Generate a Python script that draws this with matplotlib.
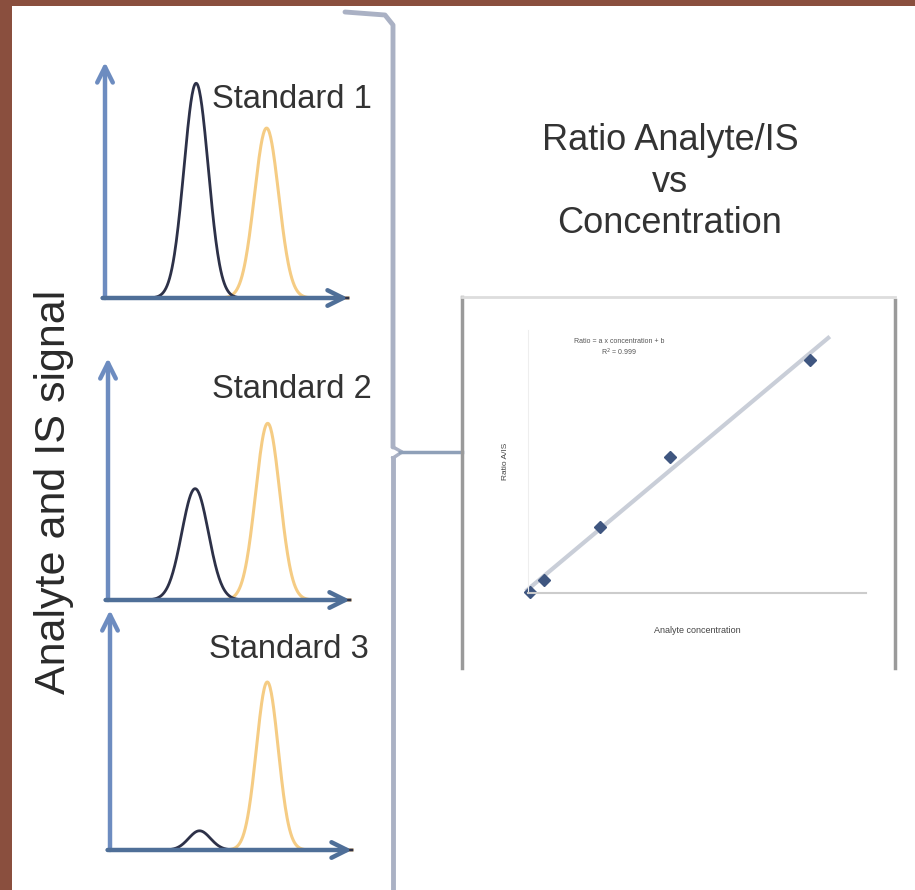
import numpy as np
import matplotlib
matplotlib.use("Agg")
import matplotlib.pyplot as plt

plt.rcParams['font.family'] = ['Liberation Sans', 'DejaVu Sans']

# chromatogram peaks per standard: retention time, height (fraction of axis), width
standards = ["Standard 1", "Standard 2", "Standard 3"]
analyte_rt = [3.75, 3.6, 3.7]
analyte_height = [0.91, 0.46, 0.08]
analyte_width = [0.5, 0.55, 0.45]
is_rt = [6.65, 6.6, 6.5]
is_height = [0.72, 0.73, 0.70]
is_width = [0.5, 0.5, 0.45]

# calibration curve
conc = [0, 1, 5, 10, 20]
ratio = [0.01, 0.11, 0.57, 1.17, 2.0]

W, H = 915, 890
fig = plt.figure(figsize=(W / 100, H / 100), dpi=100)
fig.patch.set_facecolor("#8a4f3e")

base = fig.add_axes([0, 0, 1, 1])
base.set_xlim(0, W)
base.set_ylim(H, 0)
base.axis("off")
base.add_patch(plt.Rectangle((12, 6), W, H, facecolor="white", edgecolor="none"))


def fax(x0, y0, x1, y1):
    # pixel box (top-left origin) -> figure axes
    return fig.add_axes([x0 / W, 1 - y1 / H, (x1 - x0) / W, (y1 - y0) / H])


# panel boxes: left, top(arrow tip), right(arrow tip), baseline
boxes = [(105, 62, 348, 298), (108, 358, 350, 600), (110, 610, 352, 850)]
labels_xy = [(212, 100), (212, 389), (209, 649)]
t = np.linspace(0, 10, 400)

for i, (x0, y0, x1, y1) in enumerate(boxes):
    ax = fax(x0, y0, x1, y1)
    ax.set_xlim(0, 10)
    ax.set_ylim(0, 1)
    ax.axis("off")
    ax.patch.set_alpha(0)
    an = analyte_height[i] * np.exp(-0.5 * ((t - analyte_rt[i]) / analyte_width[i]) ** 2)
    iss = is_height[i] * np.exp(-0.5 * ((t - is_rt[i]) / is_width[i]) ** 2)
    ax.plot(t, iss, color="#f5cc84", lw=2.2, clip_on=False)
    ax.plot(t, an, color="#2d3148", lw=2.0, clip_on=False)
    arrow = dict(arrowstyle="->", color="#6d8cc0", lw=3.2, mutation_scale=28,
                 shrinkA=0, shrinkB=0)
    ax.annotate("", xy=(0, 1), xytext=(0, 0), xycoords="axes fraction", arrowprops=arrow)
    arrow2 = dict(arrow, color="#4f6f98")
    ax.annotate("", xy=(1, 0), xytext=(-0.01, 0), xycoords="axes fraction", arrowprops=arrow2)
    base.text(labels_xy[i][0], labels_xy[i][1], standards[i], fontsize=23.5,
              color="#333333", va="center", ha="left")

base.text(54, 492, "Analyte and IS signal", rotation=90, fontsize=31,
          color="#2a2a2a", va="center", ha="center")

# brace
bc = "#aab1c4"
base.plot([345, 385, 393, 393], [12, 15, 25, 447], color=bc, lw=3.5, solid_capstyle="round")
base.plot([393, 393], [458, 890], color=bc, lw=3.5)
base.plot([393, 402, 393], [447, 452, 458], color=bc, lw=2.5)
base.plot([400, 462], [452, 452], color="#8fa0b8", lw=2.5)

base.text(670, 182, "Ratio Analyte/IS\nvs\nConcentration", fontsize=26,
          color="#333333", ha="center", va="center", linespacing=1.25)

# calibration frame
base.plot([462, 462], [297, 668], color="#9a9a9a", lw=2.5)
base.plot([895, 895], [300, 668], color="#9a9a9a", lw=2.5)
base.plot([462, 895], [297, 297], color="#dddddd", lw=2)

cal = fax(528, 330, 866, 593)
cal.set_xlim(-0.15, 24)
cal.set_ylim(0, 2.26)
cal.set_xticks([])
cal.set_yticks([])
for s in ["top", "right"]:
    cal.spines[s].set_visible(False)
cal.spines["left"].set_color("#eeeeee")
cal.spines["bottom"].set_color("#cccccc")
cal.spines["bottom"].set_linewidth(1.5)
a, b = np.polyfit(conc, ratio, 1)
xf = np.array([-0.2, 21.3])
cal.plot(xf, a * xf + b, color="#c9ced8", lw=3, clip_on=False)
cal.plot(conc, ratio, "D", color="#3f5680", ms=6, clip_on=False)
cal.text(0.27, 0.97, "Ratio = a x concentration + b\nR$^2$ = 0.999", transform=cal.transAxes,
         fontsize=5, color="#555555", ha="center", va="top")
cal.set_ylabel("Ratio A/IS", fontsize=6, color="#444444", labelpad=14)
cal.set_xlabel("Analyte concentration", fontsize=6.5, color="#444444", labelpad=24)

fig.savefig("out.png", dpi=100, facecolor=fig.get_facecolor())
